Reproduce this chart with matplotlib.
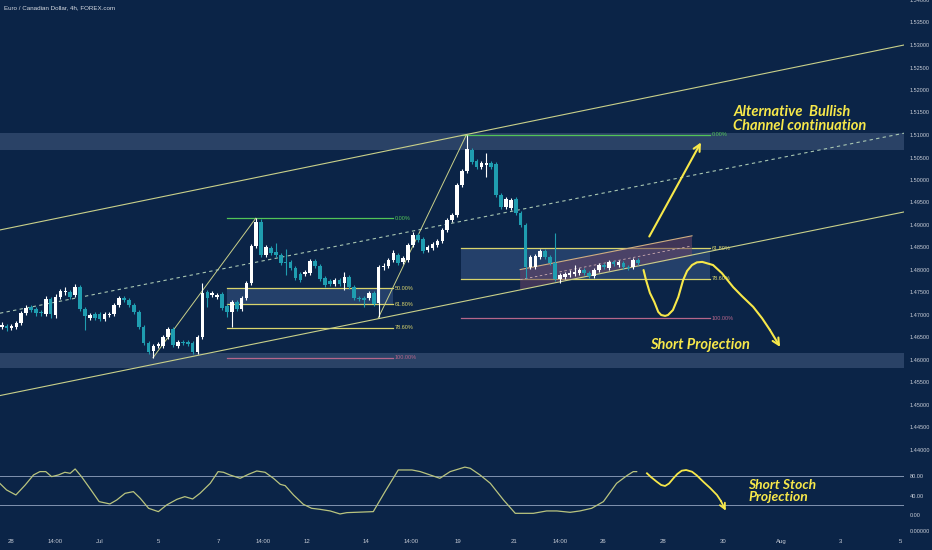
import matplotlib
matplotlib.use('Agg')
import matplotlib.pyplot as plt
import numpy as np
from matplotlib import font_manager
from matplotlib.patches import Polygon

# ---------------- data ----------------
bar_open = [1.4673, 1.4676, 1.4671, 1.4673, 1.4682, 1.4704, 1.4718, 1.4713, 1.4707, 1.4702,
            1.4736, 1.4700, 1.4740, 1.4751, 1.4751, 1.4744, 1.4762, 1.4713, 1.4693, 1.4702,
            1.4702, 1.4691, 1.4700, 1.4702, 1.4722, 1.4738, 1.4733, 1.4722, 1.4707, 1.4673,
            1.4638, 1.4620, 1.4631, 1.4631, 1.4651, 1.4669, 1.4631, 1.4640, 1.4640, 1.4638,
            1.4618, 1.4651, 1.4751, 1.4744, 1.4740, 1.4747, 1.4720, 1.4707, 1.4729, 1.4713,
            1.4738, 1.4771, 1.4853, 1.4907, 1.4833, 1.4849, 1.4840, 1.4833, 1.4818, 1.4818,
            1.4804, 1.4791, 1.4791, 1.4793, 1.4820, 1.4809, 1.4782, 1.4776, 1.4769, 1.4778,
            1.4771, 1.4784, 1.4762, 1.4738, 1.4738, 1.4738, 1.4749, 1.4727, 1.4807, 1.4809,
            1.4822, 1.4833, 1.4818, 1.4822, 1.4856, 1.4878, 1.4869, 1.4844, 1.4849, 1.4856,
            1.4864, 1.4889, 1.4911, 1.4922, 1.4989, 1.5020, 1.5067, 1.5042, 1.5029, 1.5033,
            1.5038, 1.5036, 1.4967, 1.4940, 1.4938, 1.4958, 1.4927, 1.4900, 1.4807, 1.4807,
            1.4829, 1.4842, 1.4829, 1.4816, 1.4780, 1.4784, 1.4789, 1.4791, 1.4793, 1.4800,
            1.4793, 1.4787, 1.4800, 1.4811, 1.4804, 1.4818, 1.4811, 1.4816, 1.4807, 1.4807,
            1.4822]
bar_high = [1.4684, 1.4680, 1.4680, 1.4687, 1.4709, 1.4722, 1.4722, 1.4718, 1.4711, 1.4742,
            1.4740, 1.4747, 1.4758, 1.4762, 1.4756, 1.4769, 1.4767, 1.4718, 1.4704, 1.4707,
            1.4707, 1.4707, 1.4707, 1.4727, 1.4742, 1.4742, 1.4738, 1.4727, 1.4711, 1.4678,
            1.4642, 1.4636, 1.4640, 1.4656, 1.4673, 1.4673, 1.4644, 1.4644, 1.4644, 1.4642,
            1.4656, 1.4771, 1.4756, 1.4753, 1.4749, 1.4751, 1.4724, 1.4733, 1.4733, 1.4742,
            1.4776, 1.4858, 1.4916, 1.4913, 1.4856, 1.4853, 1.4860, 1.4838, 1.4847, 1.4822,
            1.4809, 1.4796, 1.4800, 1.4824, 1.4824, 1.4813, 1.4787, 1.4780, 1.4782, 1.4782,
            1.4796, 1.4789, 1.4767, 1.4742, 1.4742, 1.4753, 1.4753, 1.4811, 1.4816, 1.4827,
            1.4844, 1.4838, 1.4831, 1.4860, 1.4884, 1.4882, 1.4873, 1.4856, 1.4862, 1.4869,
            1.4893, 1.4916, 1.4927, 1.4993, 1.5024, 1.5100, 1.5071, 1.5047, 1.5042, 1.5060,
            1.5042, 1.5040, 1.4971, 1.4962, 1.4960, 1.4962, 1.4931, 1.4904, 1.4833, 1.4836,
            1.4847, 1.4847, 1.4833, 1.4882, 1.4793, 1.4796, 1.4800, 1.4811, 1.4804, 1.4804,
            1.4798, 1.4804, 1.4816, 1.4816, 1.4822, 1.4822, 1.4822, 1.4820, 1.4811, 1.4827,
            1.4827]
bar_low = [1.4669, 1.4664, 1.4667, 1.4669, 1.4678, 1.4700, 1.4707, 1.4698, 1.4698, 1.4698,
           1.4693, 1.4693, 1.4736, 1.4744, 1.4736, 1.4740, 1.4709, 1.4667, 1.4689, 1.4689,
           1.4687, 1.4687, 1.4696, 1.4698, 1.4718, 1.4729, 1.4718, 1.4702, 1.4669, 1.4633,
           1.4613, 1.4604, 1.4627, 1.4627, 1.4647, 1.4629, 1.4627, 1.4633, 1.4631, 1.4613,
           1.4613, 1.4647, 1.4718, 1.4740, 1.4736, 1.4711, 1.4696, 1.4673, 1.4709, 1.4709,
           1.4733, 1.4767, 1.4849, 1.4829, 1.4829, 1.4833, 1.4829, 1.4811, 1.4789, 1.4800,
           1.4778, 1.4773, 1.4787, 1.4789, 1.4804, 1.4776, 1.4762, 1.4764, 1.4764, 1.4764,
           1.4756, 1.4758, 1.4733, 1.4731, 1.4718, 1.4733, 1.4720, 1.4696, 1.4800, 1.4804,
           1.4818, 1.4811, 1.4813, 1.4818, 1.4851, 1.4862, 1.4838, 1.4840, 1.4844, 1.4851,
           1.4860, 1.4884, 1.4907, 1.4918, 1.4984, 1.5016, 1.5036, 1.5024, 1.5024, 1.5007,
           1.5024, 1.4962, 1.4936, 1.4936, 1.4933, 1.4922, 1.4896, 1.4782, 1.4802, 1.4802,
           1.4824, 1.4824, 1.4811, 1.4776, 1.4771, 1.4780, 1.4784, 1.4787, 1.4789, 1.4789,
           1.4782, 1.4782, 1.4796, 1.4802, 1.4800, 1.4809, 1.4807, 1.4802, 1.4800, 1.4802,
           1.4811]
bar_close = [1.4678, 1.4671, 1.4676, 1.4682, 1.4704, 1.4716, 1.4711, 1.4704, 1.4704, 1.4736,
             1.4702, 1.4740, 1.4753, 1.4753, 1.4740, 1.4762, 1.4713, 1.4698, 1.4700, 1.4693,
             1.4691, 1.4702, 1.4702, 1.4722, 1.4738, 1.4733, 1.4722, 1.4707, 1.4673, 1.4638,
             1.4618, 1.4631, 1.4636, 1.4651, 1.4669, 1.4633, 1.4640, 1.4638, 1.4636, 1.4618,
             1.4651, 1.4749, 1.4738, 1.4749, 1.4744, 1.4716, 1.4707, 1.4729, 1.4713, 1.4738,
             1.4771, 1.4853, 1.4907, 1.4833, 1.4851, 1.4838, 1.4833, 1.4816, 1.4816, 1.4804,
             1.4782, 1.4778, 1.4796, 1.4820, 1.4809, 1.4780, 1.4767, 1.4769, 1.4778, 1.4769,
             1.4784, 1.4762, 1.4738, 1.4736, 1.4733, 1.4749, 1.4724, 1.4807, 1.4809, 1.4822,
             1.4838, 1.4816, 1.4827, 1.4856, 1.4878, 1.4867, 1.4842, 1.4851, 1.4858, 1.4864,
             1.4889, 1.4911, 1.4922, 1.4989, 1.5020, 1.5069, 1.5040, 1.5029, 1.5038, 1.5038,
             1.5029, 1.4967, 1.4940, 1.4958, 1.4956, 1.4927, 1.4900, 1.4807, 1.4829, 1.4831,
             1.4842, 1.4829, 1.4816, 1.4780, 1.4789, 1.4791, 1.4793, 1.4796, 1.4800, 1.4793,
             1.4787, 1.4800, 1.4811, 1.4807, 1.4818, 1.4813, 1.4818, 1.4807, 1.4804, 1.4822,
             1.4816]

stoch_bar = [-0.4, 1.0, 2.9, 4.8, 6.5, 7.8, 9.0, 10.2, 11.6, 12.9, 14.0, 15.0, 16.3, 18.0,
             19.9, 22.1, 23.5, 25.2, 26.9, 28.3, 30.0, 32.0, 33.7, 35.8, 37.4, 39.0, 40.5,
             42.6, 44.2, 45.3, 46.6, 48.7, 50.4, 52.1, 53.8, 55.5, 56.9, 57.9, 59.6, 61.6,
             63.3, 65.0, 67.1, 69.1, 70.5, 75.9, 78.3, 81.0, 83.8, 85.5, 87.5, 89.5, 91.6,
             94.6, 95.7, 97.7, 99.8, 102.5, 104.9, 108.6, 111.3, 113.4, 116.1, 118.1, 120.5,
             122.9, 125.6, 127.7, 129.0, 129.7]
stoch_val = [65.5, 51.7, 41.4, 62.0, 82.8, 89.7, 89.7, 79.3, 82.8, 88.3, 86.2, 95.2, 79.3, 55.2,
             27.6, 22.8, 31.0, 44.8, 48.3, 34.5, 13.8, 6.9, 20.7, 32.4, 37.9, 33.1, 44.8,
             65.5, 89.7, 88.3, 82.8, 75.9, 84.1, 91.0, 88.3, 75.9, 63.4, 60.7, 41.4, 22.1,
             13.8, 11.7, 8.3, 2.1, 4.8, 6.9, 48.3, 93.1, 93.1, 89.7, 82.8, 75.9, 89.7,
             99.0, 96.6, 82.8, 65.5, 31.0, 3.4, 3.4, 8.3, 8.3, 5.5, 8.3, 13.8,
             27.6, 65.5, 81.4, 89.7, 89.7]

date_ticks = [1.9, 10.9, 20.1, 32.1, 44.2, 53.4, 62.4, 74.4, 83.6, 93.2, 104.7, 114.1,
              122.8, 135.1, 147.4, 159.2, 171.3, 183.5]
date_labels = ['28', '14:00', 'Jul', '5', '7', '14:00', '12', '14', '14:00', '19', '21',
               '14:00', '26', '28', '30', 'Aug', '3', '5']

price_ticks = [1.440, 1.445, 1.450, 1.455, 1.460, 1.465, 1.470, 1.475, 1.480, 1.485, 1.490,
               1.495, 1.500, 1.505, 1.510, 1.515, 1.520, 1.525, 1.530, 1.535, 1.540]
stoch_ticks = [80, 40, 0]
stoch_levels = [80, 20]

# channel lines (bar, price)
channel_x = [-0.35, 184.3]
channel_upper = [1.4889, 1.5300]
channel_mid = [1.4704, 1.5104]
channel_lower = [1.4521, 1.4929]

# small rising channel
small_ch_x = [105.9, 141.0]
small_ch_upper = [1.4801, 1.4876]
small_ch_lower = [1.4756, 1.4831]

# zones
zone_upper = (1.5067, 1.5104)
zone_lower = (1.4582, 1.4616)

# fib retracements
fib_left = dict(lo_bar=30.9, lo=1.4605, hi_bar=51.9, hi=1.4915, x0=46.0, x1=79.9)
fib_right = dict(lo_bar=76.9, lo=1.4693, hi_bar=94.9, hi=1.5100, x0=93.8, x1=144.7)
fib_left_levels = [0.0, 0.5, 0.618, 0.786, 1.0]
fib_right_levels = [0.0, 0.618, 0.786, 1.0]

# projections
up_arrow = ((132.0, 1.4869), (143.1, 1.5089))
proj_x = [131.1, 131.6, 132.4, 133.3, 134.1, 134.7, 135.5, 136.1, 137.1, 138.2, 139.2, 140.0,
          141.0, 142.0, 143.1, 145.3, 147.1, 149.4, 151.2, 153.5, 155.3, 156.9, 159.0]
proj_y = [1.4800, 1.4778, 1.4749, 1.4729, 1.4707, 1.4700, 1.4698, 1.4700, 1.4711, 1.4740,
          1.4778, 1.4798, 1.4811, 1.4817, 1.4818, 1.4811, 1.4793, 1.4762, 1.4742, 1.4718,
          1.4693, 1.4667, 1.4629]
sproj_x = [131.8, 132.6, 133.8, 134.7, 135.5, 136.3, 137.2, 138.0, 138.9, 139.8, 141.0,
           142.0, 143.3, 144.7, 146.1, 146.9, 147.9]
sproj_y = [86.2, 78.6, 68.8, 62.0, 60.0, 65.0, 75.9, 84.8, 91.6, 93.0, 89.5, 81.7, 68.8,
           55.8, 41.3, 29.0, 8.8]

# ---------------- style ----------------
BG = '#0b2447'
BULL = '#ffffff'
BEAR = '#1f9db0'
CH = '#c9d08a'
MID = '#a8c6b2'
YEL = '#f7e84a'
TXT = '#c7ccd6'
FIB_COL = {0.0: '#52c457', 0.5: '#d9d46c', 0.618: '#d9d46c', 0.786: '#d9d46c', 1.0: '#b5668a'}

names = {f.name for f in font_manager.fontManager.ttflist}
ANNO_FONT = next((n for n in ['Liberation Sans Narrow', 'Lato', 'Open Sans'] if n in names),
                 'DejaVu Sans')
AX_FONT = 'Liberation Sans' if 'Liberation Sans' in names else 'DejaVu Sans'

W, H = 932, 550
fig = plt.figure(figsize=(W / 100, H / 100), dpi=100, facecolor=BG)
ax = fig.add_axes([0, (H - 462) / H, 904 / W, 462 / H], facecolor=BG)
axs = fig.add_axes([0, (H - 535) / H, 904 / W, 73 / H], facecolor=BG, sharex=ax)

for a in (ax, axs):
    for s in a.spines.values():
        s.set_visible(False)

xl = (-0.347, 184.3)
ax.set_xlim(*xl)
ax.set_ylim(1.54 - 462 / 4500, 1.54)
axs.set_ylim(80 - (535 - 476.3) / 0.4833, 80 + (476.3 - 462) / 0.4833)

# zones
for lo, hi in (zone_upper, zone_lower):
    ax.axhspan(lo, hi, color='#2a4266', zorder=1, lw=0)

def draw_fib(fd, levels, shade, label_off):
    rng = fd['hi'] - fd['lo']
    lv = {r: fd['hi'] - r * rng for r in levels}
    a, b = shade
    ax.fill_between([fd['x0'], fd['x1']], lv[a], lv[b], color='#24406a', zorder=1.5, lw=0)
    for r in levels:
        ax.plot([fd['x0'], fd['x1']], [lv[r], lv[r]], color=FIB_COL[r], lw=0.9, zorder=2)
        ax.text(fd['x1'] + label_off, lv[r], f'{r * 100:.2f}%', color=FIB_COL[r],
                fontsize=4, va='center', ha='left', family=AX_FONT, zorder=6)
    ax.plot([fd['lo_bar'], fd['hi_bar']], [fd['lo'], fd['hi']], color=CH, lw=0.7, zorder=2)

draw_fib(fib_left, fib_left_levels, (0.5, 0.618), 0.3)
draw_fib(fib_right, fib_right_levels, (0.618, 0.786), 0.3)

# channel lines
ax.plot(channel_x, channel_upper, color=CH, lw=0.8, zorder=3)
ax.plot(channel_x, channel_lower, color=CH, lw=0.8, zorder=3)
ax.plot(channel_x, channel_mid, color=MID, lw=0.8, ls=(0, (3, 3)), zorder=3)

# small channel
poly = Polygon([[small_ch_x[0], small_ch_lower[0]], [small_ch_x[1], small_ch_lower[1]],
                [small_ch_x[1], small_ch_upper[1]], [small_ch_x[0], small_ch_upper[0]]],
               closed=True, facecolor='#6d4466', alpha=0.55, lw=0, zorder=2.5)
ax.add_patch(poly)
ax.plot(small_ch_x, small_ch_upper, color='#cfae82', lw=0.8, zorder=3)
ax.plot(small_ch_x, [(u + l) / 2 for u, l in zip(small_ch_upper, small_ch_lower)],
        color='#c9a9b0', lw=0.6, ls=(0, (3, 3)), zorder=3)

# candles
o = np.array(bar_open); h = np.array(bar_high); l = np.array(bar_low); c = np.array(bar_close)
idx = np.arange(len(o))
cols = np.where(c >= o, BULL, BEAR)
ax.vlines(idx, l, h, colors=cols, lw=0.8, zorder=4)
body_b = np.minimum(o, c)
body_h = np.maximum(np.abs(c - o), 0.0001)
ax.bar(idx, body_h, bottom=body_b, width=0.74, color=cols, lw=0, zorder=5)

# projections
ax.annotate('', xy=up_arrow[1], xytext=up_arrow[0],
            arrowprops=dict(arrowstyle='->', color=YEL, lw=1.5, mutation_scale=12), zorder=7)
ax.plot(proj_x[:-1], proj_y[:-1], color=YEL, lw=1.5, zorder=7, solid_capstyle='round')
ax.annotate('', xy=(proj_x[-1], proj_y[-1]), xytext=(proj_x[-2], proj_y[-2]),
            arrowprops=dict(arrowstyle='->', color=YEL, lw=1.5, mutation_scale=12,
                            shrinkA=0, shrinkB=0), zorder=7)

tfont = dict(family=ANNO_FONT, style='italic', weight='bold', color=YEL)
ax.text(149.4, 1.5136, 'Alternative  Bullish\nChannel continuation', fontsize=10.5,
        ha='left', va='center', linespacing=1.05, zorder=8, **tfont)
ax.text(132.5, 1.4633, 'Short Projection', fontsize=10.5, ha='left', va='center', zorder=8,
        **tfont)

# price axis
ax.yaxis.tick_right()
ax.set_yticks(price_ticks)
ax.set_yticklabels([f'{p:.5f}' for p in price_ticks])
ax.tick_params(axis='y', length=0, pad=4, labelsize=4, labelcolor=TXT)
ax.tick_params(axis='x', length=0, labelbottom=False)
for t in ax.get_yticklabels():
    t.set_family(AX_FONT)

# stochastic
for lvl in stoch_levels:
    axs.axhline(lvl, color='#8193b0', lw=0.7, zorder=1)
axs.plot(stoch_bar, stoch_val, color='#b9c47f', lw=0.9, zorder=3)
axs.plot(sproj_x[:-1], sproj_y[:-1], color=YEL, lw=1.3, zorder=4)
axs.annotate('', xy=(sproj_x[-1], sproj_y[-1]), xytext=(sproj_x[-2], sproj_y[-2]),
             arrowprops=dict(arrowstyle='->', color=YEL, lw=1.3, mutation_scale=10,
                             shrinkA=0, shrinkB=0), zorder=4)
axs.text(152.5, 49.6, 'Short Stoch\nProjection', fontsize=10, ha='left', va='center',
         linespacing=1.0, zorder=5, **tfont)

axs.yaxis.tick_right()
yt = stoch_ticks + [80 - (531 - 476.3) / 0.4833]
axs.set_yticks(yt)
axs.set_yticklabels([f'{v:.2f}' for v in stoch_ticks] + ['0.00000'])
axs.tick_params(axis='y', length=0, pad=4, labelsize=4, labelcolor=TXT)
axs.set_xticks(date_ticks)
axs.set_xticklabels(date_labels)
axs.tick_params(axis='x', length=0, pad=3, labelsize=4.3, labelcolor=TXT)
for t in axs.get_yticklabels() + axs.get_xticklabels():
    t.set_family(AX_FONT)
axs.set_xlim(*xl)

fig.text(4 / W, 1 - 8 / H, 'Euro / Canadian Dollar, 4h, FOREX.com', color='#d6dae2',
         fontsize=4.5, family=AX_FONT, va='center', ha='left')

fig.savefig('out.png', dpi=100, facecolor=BG)
